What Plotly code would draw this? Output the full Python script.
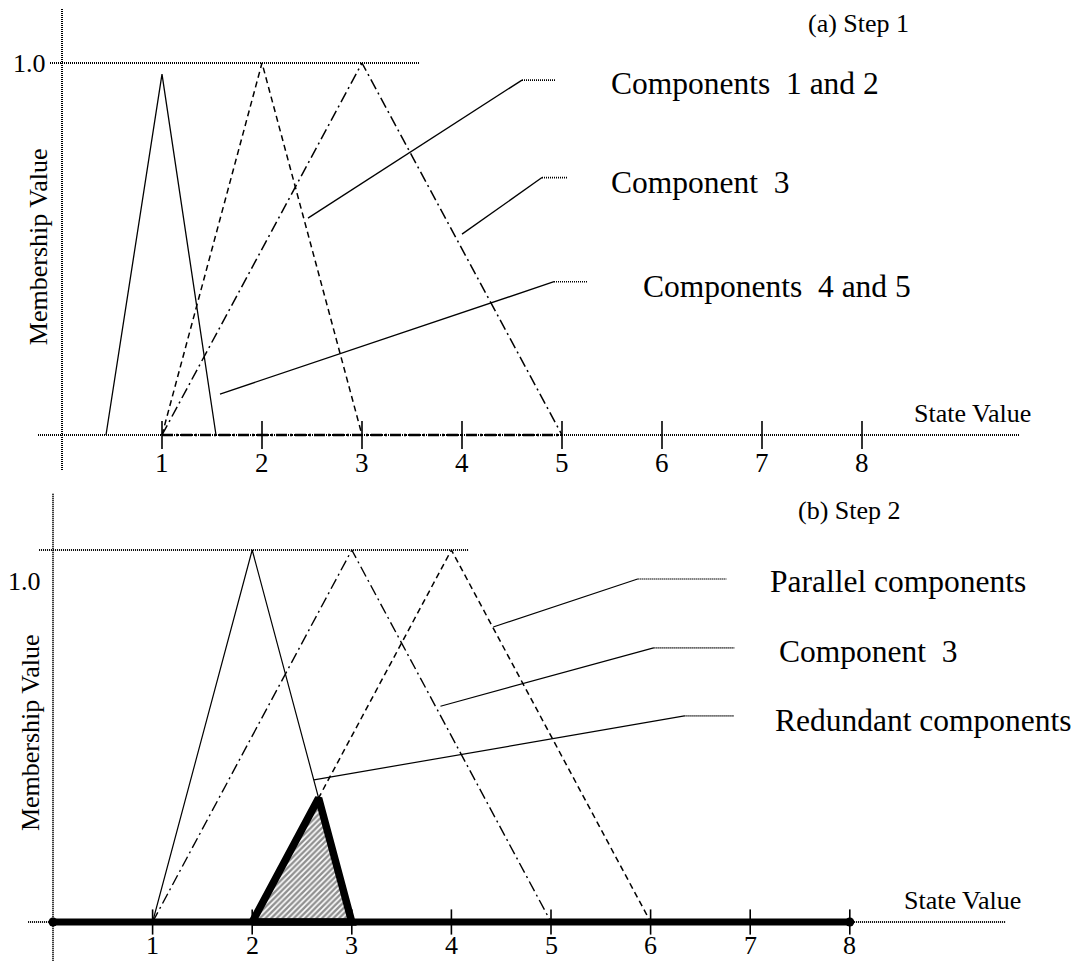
import plotly.graph_objects as go

# ---------------- data ----------------
tick_vals = [1, 2, 3, 4, 5, 6, 7, 8]
tick_text = ["1", "2", "3", "4", "5", "6", "7", "8"]

# (a) Step 1 membership functions
a_c45_x = [0.44, 1.0, 1.54]          # Components 4 and 5 (solid)
a_c45_y = [0.0, 0.97, 0.0]
a_c12_x = [1.0, 2.0, 3.0]            # Components 1 and 2 (dashed)
a_c12_y = [0.0, 1.0, 0.0]
a_c3_x = [1.0, 3.0, 5.0]             # Component 3 (dash-dot)
a_c3_y = [0.0, 1.0, 0.0]

# (b) Step 2 membership functions
b_red_x = [1.0, 2.0, 3.0]            # Redundant components (solid)
b_red_y = [0.0, 1.0, 0.0]
b_c3_x = [1.0, 3.0, 5.0]             # Component 3 (dash-dot)
b_c3_y = [0.0, 1.0, 0.0]
b_par_x = [2.0, 4.0, 6.0]            # Parallel components (dashed)
b_par_y = [0.0, 1.0, 0.0]
b_res_x = [2.0, 2.667, 3.0, 2.0]     # resulting (hatched) triangle
b_res_y = [0.0, 0.333, 0.0, 0.0]
b_base_x = [0.0, 8.0]
b_base_y = [0.0, 0.0]

# leader lines: (start x, start y, elbow x, elbow y, end x)
a_labels = ["Components\u00a0 1 and 2", "Component\u00a0 3", "Components\u00a0 4 and 5"]
a_leaders = [(2.46, 0.583, 4.60, 0.954, 4.94),
             (4.00, 0.540, 4.80, 0.692, 5.06),
             (1.58, 0.110, 4.92, 0.412, 5.26)]
a_label_x = [5.47, 5.47, 5.79]
a_label_y = [0.946, 0.680, 0.398]

b_labels = ["Parallel components", "Component\u00a0 3", "Redundant components"]
b_leaders = [(4.42, 0.793, 5.87, 0.922, 6.76),
             (3.89, 0.580, 6.03, 0.737, 6.84),
             (2.62, 0.382, 6.34, 0.554, 6.84)]
b_label_x = [7.18, 7.27, 7.23]
b_label_y = [0.914, 0.728, 0.543]

FONT = "Liberation Serif, Times New Roman, serif"
DOT = "1px,1px"

# page body has an 8px margin: figure is placed at (8, 8) in the window
OFF = 8
W, H = 1083 - OFF, 961 - OFF

fig = go.Figure()


def line(x, y, panel, dash="solid", width=1.3, color="black"):
    fig.add_trace(go.Scatter(
        x=x, y=y, mode="lines", xaxis="x" if panel == 1 else "x2",
        yaxis="y" if panel == 1 else "y2",
        line=dict(color=color, width=width, dash=dash),
        hoverinfo="skip", showlegend=False))


# ---------- panel (a) axes ----------
line([-0.24, 9.58], [0, 0], 1, DOT, 2)          # x axis
line([0, 0], [-0.094, 1.16], 1, DOT, 2)         # y axis
line([-0.12, 3.57], [1.0, 1.0], 1, DOT, 2)      # 1.0 line
fig.add_trace(go.Scatter(x=tick_vals, y=[0] * len(tick_vals), mode="markers",
                         xaxis="x", yaxis="y",
                         marker=dict(symbol="line-ns", size=20,
                                     line=dict(color="black", width=1.6)),
                         hoverinfo="skip", showlegend=False))

# ---------- panel (a) curves ----------
line(a_c45_x, a_c45_y, 1, "solid", 1.3)
line(a_c12_x, a_c12_y, 1, "6px,4px", 1.5)
line(a_c3_x, a_c3_y, 1, "11px,4px,2px,4px", 1.5)
line([a_c3_x[0], a_c3_x[-1]], [0, 0], 1, "11px,3px,2px,3px", 2.6)

for (sx, sy, ex, ey, dx) in a_leaders:
    line([sx, ex], [sy, ey], 1, "solid", 1.3)
    line([ex, dx], [ey, ey], 1, DOT, 1.6)

# ---------- panel (b) axes ----------
line([-0.25, 9.56], [0, 0], 2, DOT, 2)
line([0, 0], [-0.12, 1.153], 2, DOT, 2)
line([-0.14, 4.17], [1.0, 1.0], 2, DOT, 2)
fig.add_trace(go.Scatter(x=tick_vals, y=[0] * len(tick_vals), mode="markers",
                         xaxis="x2", yaxis="y2",
                         marker=dict(symbol="line-ns", size=18,
                                     line=dict(color="black", width=1.6)),
                         hoverinfo="skip", showlegend=False))

# ---------- panel (b) curves ----------
line(b_red_x, b_red_y, 2, "solid", 1.2)
line(b_c3_x, b_c3_y, 2, "11px,4px,2px,4px", 1.4)
line(b_par_x, b_par_y, 2, "6px,4px", 1.5)

for (sx, sy, ex, ey, dx) in b_leaders:
    line([sx, ex], [sy, ey], 2, "solid", 1.2)
    line([ex, dx], [ey, ey], 2, DOT, 1.6)

fig.add_trace(go.Scatter(
    x=b_res_x, y=b_res_y, mode="lines", xaxis="x2", yaxis="y2",
    fill="toself", fillcolor="white",
    fillpattern=dict(shape="/", fgcolor="#222222", bgcolor="white",
                     size=4, solidity=0.6),
    line=dict(color="black", width=7.5), hoverinfo="skip", showlegend=False))

fig.add_trace(go.Scatter(
    x=b_base_x, y=b_base_y, mode="lines+markers", xaxis="x2", yaxis="y2",
    line=dict(color="black", width=7),
    marker=dict(symbol="circle", size=9, color="black"),
    hoverinfo="skip", showlegend=False))

# ---------- text ----------
ann = []
for v, t in zip(tick_vals, tick_text):
    ann.append(dict(x=v, y=0, xref="x", yref="y", text=t, showarrow=False,
                    yshift=-28, font=dict(size=27, family=FONT, color="black")))
    ann.append(dict(x=v, y=0, xref="x2", yref="y2", text=t, showarrow=False,
                    yshift=-23, font=dict(size=26, family=FONT, color="black")))

for t, x, y in zip(a_labels, a_label_x, a_label_y):
    ann.append(dict(x=x, y=y, xref="x", yref="y", text=t, showarrow=False,
                    xanchor="left", yanchor="middle",
                    font=dict(size=31.5, family=FONT, color="black")))
for t, x, y in zip(b_labels, b_label_x, b_label_y):
    ann.append(dict(x=x, y=y, xref="x2", yref="y2", text=t, showarrow=False,
                    xanchor="left", yanchor="middle",
                    font=dict(size=31.5, family=FONT, color="black")))

small = dict(size=26, family=FONT, color="black")
ann += [
    dict(x=-0.33, y=1.0, xref="x", yref="y", text="1.0", showarrow=False, font=small),
    dict(x=-0.44, y=0.914, xref="x2", yref="y2", text="1.0", showarrow=False,
         xanchor="left", xshift=-3, font=small),
    dict(x=-0.24, y=0.505, xref="x", yref="y", text="Membership Value", textangle=-90,
         showarrow=False, font=small),
    dict(x=-0.23, y=0.508, xref="x2", yref="y2", text="Membership Value", textangle=-90,
         showarrow=False, font=small),
    dict(x=9.10, y=0.059, xref="x", yref="y", text="State Value", showarrow=False, font=small),
    dict(x=9.13, y=0.059, xref="x2", yref="y2", text="State Value", showarrow=False, font=small),
    dict(x=7.96, y=1.105, xref="x", yref="y", text="(a) Step 1", showarrow=False, font=small),
    dict(x=8.00, y=1.105, xref="x2", yref="y2", text="(b) Step 2", showarrow=False, font=small),
]

# split between panels at page y = 480
split = 480 - OFF
bot_dom = 1 - split / H
fig.update_layout(
    width=W, height=H,
    margin=dict(l=0, r=0, t=0, b=0),
    paper_bgcolor="white", plot_bgcolor="white",
    hovermode=False, showlegend=False,
    annotations=ann,
    xaxis=dict(domain=[0, 1], range=[(OFF - 62) / 100, (1083 - 62) / 100],
               visible=False, anchor="y"),
    yaxis=dict(domain=[bot_dom, 1], range=[(435 - 480) / 372, (435 - OFF) / 372],
               visible=False, anchor="x"),
    xaxis2=dict(domain=[0, 1], range=[(OFF - 53) / 99.6, (1083 - 53) / 99.6],
                visible=False, anchor="y2"),
    yaxis2=dict(domain=[0, bot_dom], range=[(922 - 961) / 372, (922 - 480) / 372],
                visible=False, anchor="x2"),
)

fig.write_html("out.html")
